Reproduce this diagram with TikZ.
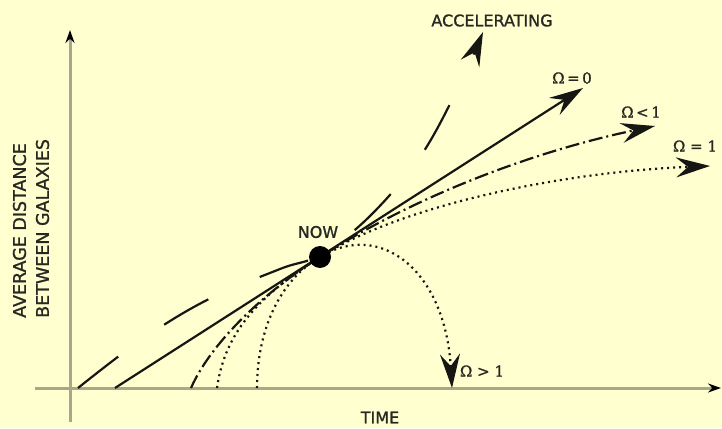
\documentclass[tikz,border=0pt]{standalone}
\usepackage{fontspec}
\setmainfont{DejaVu Sans}
\newfontfamily\capfont[FakeBold=1.2]{DejaVu Sans}
\newfontfamily\omfont[FakeBold=1.2]{DejaVu Serif}
\usetikzlibrary{arrows.meta}
\definecolor{bgyellow}{RGB}{255,255,208}
\definecolor{axisgray}{RGB}{168,168,136}
\definecolor{ink}{RGB}{22,22,18}
\definecolor{labelgray}{RGB}{40,40,34}
\tikzset{
  bigtip/.style={-{Stealth[length=34pt,width=20pt,inset=12pt]}},
  curve/.style={ink,line width=2.2pt,bigtip},
  axis/.style={axisgray,line width=3pt,-{Stealth[black,length=13pt,width=9pt]}},
  lbl/.style={text=labelgray,font=\capfont\fontsize{16}{19}\selectfont,inner sep=0pt},
  ylbl/.style={lbl,font=\capfont\fontsize{17.5}{20}\selectfont,rotate=90,anchor=west},
  omlbl/.style={text=labelgray,font=\omfont\fontsize{15}{18}\selectfont,inner sep=0pt},
}
\begin{document}
\begin{tikzpicture}[x=1pt,y=-1pt]
\useasboundingbox (0,0) rectangle (722,428);
\fill[bgyellow] (0,0) rectangle (722,428);
% axes
\draw[axis] (70,422) -- (70,30);
\draw[axis] (35,388) -- (721,388);
\node[ylbl] (ylabA) at (19.5,318) {AVERAGE DISTANCE};
\node[ylbl] (ylabB) at (42.5,318) {BETWEEN GALAXIES};
\node[lbl] (time) at (380,417.5) {TIME};
% accelerating
\draw[curve,dash pattern=on 51pt off 56pt]
  plot[smooth,tension=0.6] coordinates {(78,388) (141,340) (207,300) (280,269) (320,255) (369,217) (420,157) (458,88) (483,32)};
\node[lbl] (acc) at (492,20.5) {ACCELERATING};
% Omega = 0
\draw[curve] (115,388) -- (583,88);
\node[omlbl] (om0) at (572,78) {Ω\,=\,0};
% Omega < 1
\draw[curve,dash pattern=on 14pt off 4pt on 2pt off 4pt]
  (191,388) .. controls (210,345) and (260,295) .. (320,257)
  .. controls (420,193) and (540,150) .. (655,126);
\node[omlbl] (omlt) at (641,112) {Ω\,<\,1};
% Omega = 1
\draw[curve,dash pattern=on 2pt off 4pt]
  (217,388) .. controls (225,330) and (262,294) .. (320,257)
  .. controls (400,206) and (560,172) .. (710,166);
\node[omlbl] (om1) at (695,146) {Ω = 1};
% Omega > 1
\draw[curve,dash pattern=on 2pt off 4pt]
  (257,388) .. controls (257,330) and (280,280) .. (320,257)
  .. controls (380,220) and (445,270) .. (452,388);
\node[omlbl] (omgt) at (482,371) {Ω > 1};
% now
\node[circle,fill=black,minimum size=22pt,inner sep=0pt] (now) at (320,257) {};
\node[lbl] (nowlbl) at (318,232) {NOW};
\end{tikzpicture}
\end{document}
